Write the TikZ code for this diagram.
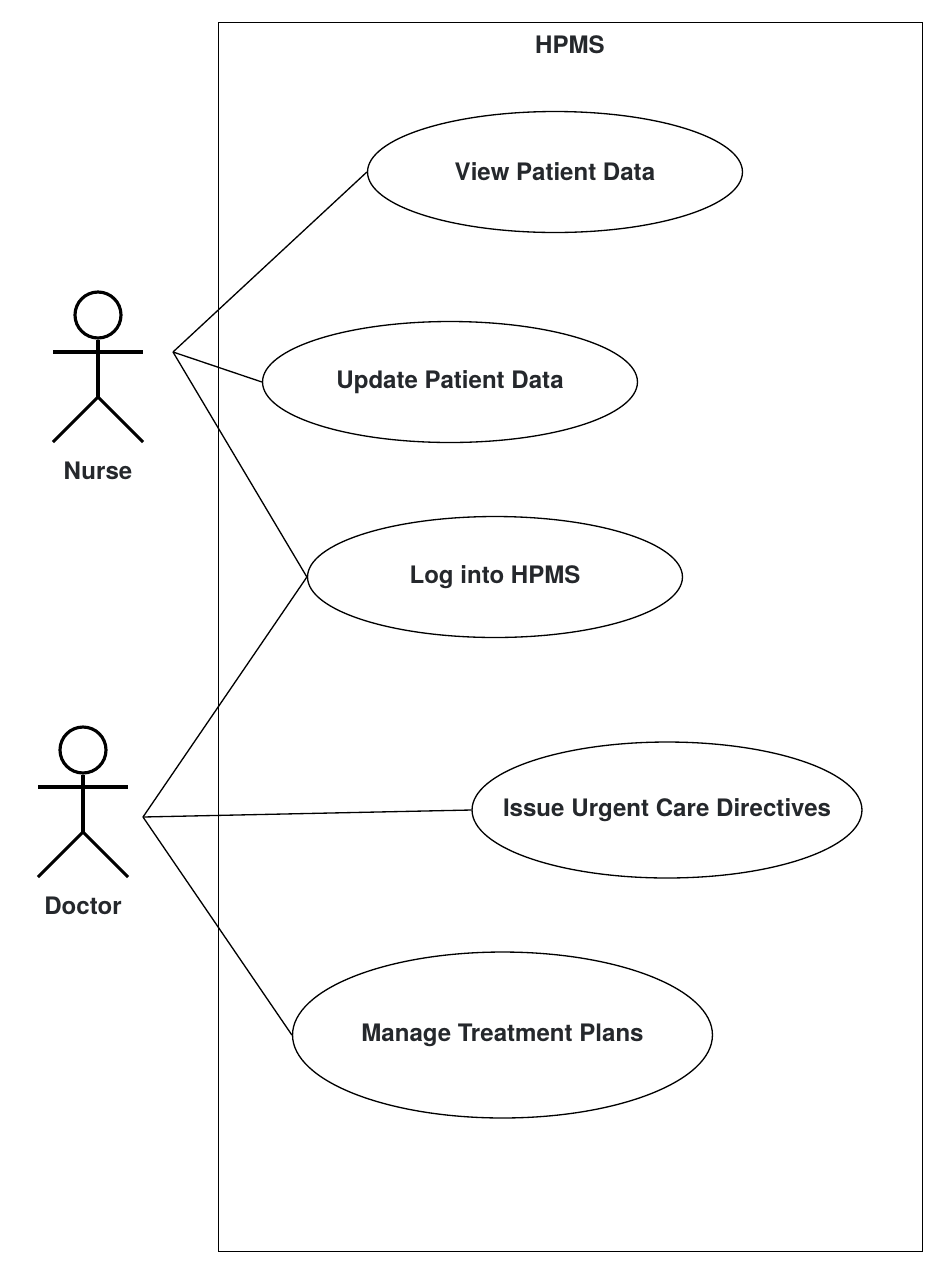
\documentclass[tikz,border=0pt]{standalone}
\usepackage{fontspec}
\setmainfont{TeX Gyre Heros}
\usetikzlibrary{shapes.geometric}
\definecolor{textdark}{HTML}{25282C}
\tikzset{
    usecase/.style={draw, ellipse, line width=0.75pt, inner ysep=0pt, inner xsep=-1.5cm, text=textdark, font=\fontsize{13.7pt}{16pt}\selectfont\bfseries},
    head/.style={draw, circle, line width=1.8pt, minimum size=0.92cm, inner sep=0pt},
    limb/.style={line width=1.8pt},
    actorname/.style={text=textdark, font=\fontsize{13.7pt}{16pt}\selectfont\bfseries},
    assoc/.style={line width=0.75pt},
}

\begin{document}
\begin{tikzpicture}[x=0.02cm, y=-0.02cm]
    \useasboundingbox (0, 0) rectangle (945, 1275);
    \fill[white] (0, 0) rectangle (945, 1275);

    \node[draw, line width=0.6pt, minimum width=14.1cm, minimum height=24.6cm, inner sep=0pt] (system) at (570.5, 637) {};
    \node[actorname] (title) at (570, 45) {HPMS};

    \node[usecase, minimum width=7.5cm, minimum height=2.42cm] (view) at (555, 172) {View Patient Data};
    \node[usecase, minimum width=7.5cm, minimum height=2.42cm] (update) at (450, 382) {Update Patient Data};
    \node[usecase, minimum width=7.5cm, minimum height=2.42cm] (login) at (495, 577) {Log into HPMS};
    \node[usecase, minimum width=7.8cm, minimum height=2.72cm] (issue) at (667, 810) {Issue Urgent Care Directives};
    \node[usecase, minimum width=8.4cm, minimum height=3.32cm] (manage) at (502.5, 1035) {Manage Treatment Plans};

    % nurse
    \node[head] (nursehead) at (98, 315) {};
    \coordinate (nursehip) at (98, 397);
    \coordinate (nursearml) at (53, 352);
    \coordinate (nursearmr) at (143, 352);
    \coordinate (nursefootl) at (53, 442);
    \coordinate (nursefootr) at (143, 442);
    \coordinate (nurseport) at (173, 352);
    \node[actorname] (nurse) at (98, 471) {Nurse};
    \draw[limb] (nursehead) to (nursehip);
    \draw[limb] (nursearml) to (nursearmr);
    \draw[limb] (nursefootl) to (nursehip) to (nursefootr);

    % doctor
    \node[head] (doctorhead) at (83, 750) {};
    \coordinate (doctorhip) at (83, 832);
    \coordinate (doctorarml) at (38, 787);
    \coordinate (doctorarmr) at (128, 787);
    \coordinate (doctorfootl) at (38, 877);
    \coordinate (doctorfootr) at (128, 877);
    \coordinate (doctorport) at (143, 817);
    \node[actorname] (doctor) at (83, 906) {Doctor};
    \draw[limb] (doctorhead) to (doctorhip);
    \draw[limb] (doctorarml) to (doctorarmr);
    \draw[limb] (doctorfootl) to (doctorhip) to (doctorfootr);

    \draw[assoc] (nurseport) to (view.west);
    \draw[assoc] (nurseport) to (update.west);
    \draw[assoc] (nurseport) to (login.west);
    \draw[assoc] (doctorport) to (login.west);
    \draw[assoc] (doctorport) to (issue.west);
    \draw[assoc] (doctorport) to (manage.west);
\end{tikzpicture}
\end{document}
